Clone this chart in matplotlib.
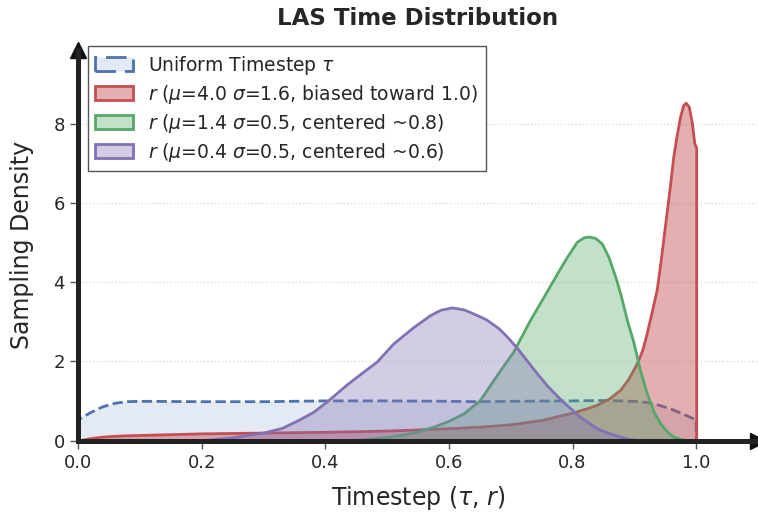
import matplotlib
matplotlib.use('Agg')
import matplotlib.pyplot as plt
from matplotlib.colors import to_rgba

# Densities (x = timestep, y = density)
uniform_x = [0.0, 0.02, 0.04, 0.06, 0.08, 0.10, 0.20, 0.30, 0.40, 0.50, 0.60,
             0.65, 0.70, 0.80, 0.85, 0.90, 0.92, 0.94, 0.96, 0.98, 1.00]
uniform_y = [0.52, 0.70, 0.85, 0.94, 0.98, 0.99, 0.98, 0.98, 1.00, 1.00, 0.99,
             0.98, 0.99, 1.00, 1.01, 0.99, 0.96, 0.89, 0.79, 0.66, 0.52]

red_x = [0.0, 0.01, 0.02, 0.035, 0.05, 0.075, 0.10, 0.15, 0.20, 0.30, 0.40,
         0.50, 0.60, 0.65, 0.70, 0.75, 0.796, 0.82, 0.839, 0.86, 0.877,
         0.89, 0.904, 0.913, 0.92, 0.928, 0.936, 0.942, 0.95, 0.958, 0.963,
         0.969, 0.974, 0.979, 0.983, 0.988, 0.993, 0.997, 1.0]
red_y = [0.0, 0.03, 0.06, 0.09, 0.11, 0.13, 0.14, 0.16, 0.18, 0.20, 0.22,
         0.25, 0.31, 0.35, 0.41, 0.52, 0.69, 0.80, 0.90, 1.07, 1.28,
         1.55, 1.95, 2.30, 2.71, 3.25, 3.80, 4.48, 5.49, 6.49, 7.18,
         7.76, 8.18, 8.47, 8.53, 8.43, 8.02, 7.50, 7.40]

green_x = [0.40, 0.45, 0.475, 0.50, 0.525, 0.55, 0.575, 0.60, 0.624, 0.65,
           0.683, 0.704, 0.731, 0.758, 0.775, 0.791, 0.807, 0.818, 0.827,
           0.837, 0.847, 0.858, 0.869, 0.877, 0.888, 0.899, 0.909, 0.920,
           0.931, 0.942, 0.953, 0.963, 0.974, 0.985]
green_y = [0.0, 0.02, 0.05, 0.09, 0.15, 0.23, 0.35, 0.50, 0.69, 1.02,
           1.78, 2.24, 3.04, 3.76, 4.22, 4.64, 5.02, 5.13, 5.15,
           5.11, 4.98, 4.64, 4.14, 3.72, 3.04, 2.45, 1.78, 1.20,
           0.73, 0.43, 0.22, 0.10, 0.04, 0.0]

purple_x = [0.15, 0.20, 0.25, 0.30, 0.33, 0.359, 0.38, 0.402, 0.435, 0.46,
            0.483, 0.510, 0.543, 0.570, 0.586, 0.605, 0.624, 0.645, 0.660,
            0.680, 0.694, 0.710, 0.737, 0.758, 0.783, 0.812, 0.839, 0.860,
            0.877, 0.890, 0.92]
purple_y = [0.0, 0.01, 0.08, 0.20, 0.32, 0.54, 0.72, 0.98, 1.42, 1.72,
            1.99, 2.45, 2.87, 3.17, 3.30, 3.36, 3.31, 3.17, 3.06,
            2.84, 2.62, 2.34, 1.80, 1.40, 1.00, 0.60, 0.31, 0.18,
            0.10, 0.04, 0.0]

labels = [r'Uniform Timestep $\tau$',
          r'$r$ ($\mu$=4.0 $\sigma$=1.6, biased toward 1.0)',
          r'$r$ ($\mu$=1.4 $\sigma$=0.5, centered ~0.8)',
          r'$r$ ($\mu$=0.4 $\sigma$=0.5, centered ~0.6)']

colors = ['#4C72B0', '#C44E52', '#55A868', '#8172B3']
alphas = [0.15, 0.45, 0.35, 0.35]
styles = ['--', '-', '-', '-']

plt.rcParams['text.color'] = '#262626'
plt.rcParams['axes.labelcolor'] = '#262626'
plt.rcParams['xtick.color'] = '#262626'
plt.rcParams['ytick.color'] = '#262626'

fig = plt.figure(figsize=(7.58, 5.14), dpi=100)
ax = fig.add_axes([78 / 758, 1 - 440.5 / 514, 680 / 758, 390.5 / 514])

series = [(uniform_x, uniform_y), (red_x, red_y),
          (green_x, green_y), (purple_x, purple_y)]
for i, (xs, ys) in enumerate(series):
    ax.fill_between(xs, ys, 0, facecolor=to_rgba(colors[i], alphas[i]),
                    edgecolor=colors[i], linewidth=2, linestyle=styles[i],
                    label=labels[i], zorder=1 + i * 0.1)

ax.set_xlim(0, 1.1)
ax.set_ylim(0, 9.86)
ax.set_xticks([0.0, 0.2, 0.4, 0.6, 0.8, 1.0])
ax.set_yticks([0, 2, 4, 6, 8])
ax.tick_params(axis='both', labelsize=13, length=6, width=1, color='#555555')

ax.grid(which='major', axis='y', linestyle=':', color='#dddddd', linewidth=1)
ax.set_axisbelow(True)

ax.spines['right'].set_visible(False)
ax.spines['top'].set_visible(False)
ax.spines['left'].set_linewidth(3.6)
ax.spines['bottom'].set_linewidth(3.6)
ax.spines['left'].set_color('#222222')
ax.spines['bottom'].set_color('#222222')

# Arrow heads on the axes
ax.plot(1, 0, '>', color='#111111', ms=12, transform=ax.get_yaxis_transform(),
        clip_on=False)
ax.plot(0, 1, '^', color='#111111', ms=12, transform=ax.get_xaxis_transform(),
        clip_on=False)

ax.set_xlabel(r'Timestep ($\tau$, $r$)', fontsize=17, labelpad=9)
ax.set_ylabel('Sampling Density', fontsize=17, labelpad=14)
ax.set_title('LAS Time Distribution', fontsize=16.5, fontweight='bold', pad=18)

leg = ax.legend(loc='upper left', bbox_to_anchor=(0.0147, 1.01),
                borderaxespad=0, fontsize=13.5, fancybox=False,
                edgecolor='#555555', framealpha=1, handlelength=2.0,
                labelspacing=0.32)
leg.get_frame().set_linewidth(1)

plt.savefig('out.png', dpi=100)
